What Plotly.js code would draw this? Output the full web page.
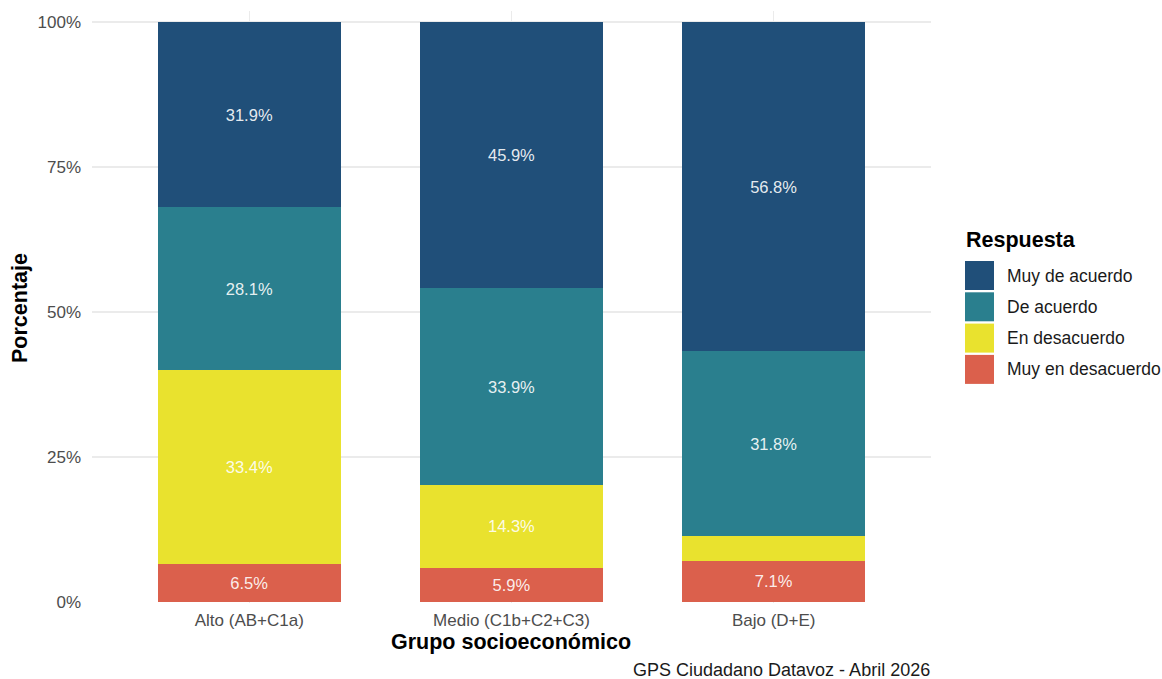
<!DOCTYPE html>
<html>
<head>
<meta charset="utf-8">
<script src="https://cdn.plot.ly/plotly-3.0.1.min.js"></script>
<style>html,body{margin:0;padding:0;background:#fff;}#chart{width:1162px;height:679px;}</style>
</head>
<body>
<div id="chart"></div>
<script>
// ---- Data ----
const categories = ["Alto (AB+C1a)", "Medio (C1b+C2+C3)", "Bajo (D+E)"];
const responses = ["Muy en desacuerdo", "En desacuerdo", "De acuerdo", "Muy de acuerdo"];
const muyEnDesacuerdo = [6.5, 5.9, 7.1];
const enDesacuerdo = [33.4, 14.3, 4.3];
const deAcuerdo = [28.1, 33.9, 31.8];
const muyDeAcuerdo = [31.9, 45.9, 56.8];
const yTickVals = [0, 25, 50, 75, 100];
const yTickText = ["0%", "25%", "50%", "75%", "100%"];

// ---- Styles ----
const colors = {
  "Muy en desacuerdo": "#db604c",
  "En desacuerdo": "#e9e22e",
  "De acuerdo": "#2a7f8e",
  "Muy de acuerdo": "#204f79"
};
const series = {
  "Muy en desacuerdo": muyEnDesacuerdo,
  "En desacuerdo": enDesacuerdo,
  "De acuerdo": deAcuerdo,
  "Muy de acuerdo": muyDeAcuerdo
};
const FONT = "Liberation Sans, Arial, sans-serif";

const traces = responses.map(r => ({
  type: "bar",
  name: r,
  x: categories,
  y: series[r],
  width: 0.7,
  marker: {color: colors[r], line: {width: 0}},
  text: series[r].map(v => v >= 5 ? v.toFixed(1) + "%" : ""),
  textposition: "inside",
  insidetextanchor: "middle",
  textangle: 0,
  constraintext: "none",
  textfont: {family: FONT, size: 16.5, color: "rgba(255,255,255,0.9)"},
  hoverinfo: "skip",
  showlegend: false
}));

// Plot area geometry in px
const L = 92, R = 931, T = 11, B = 603, W = 1162, H = 679;
const pw = R - L, ph = B - T;
const px = x => (x - L) / pw;
const py = y => (B - y) / ph;

// Custom legend (large keys as in reference)
const legendOrder = ["Muy de acuerdo", "De acuerdo", "En desacuerdo", "Muy en desacuerdo"];
const shapes = [];
const annotations = [];
annotations.push({xref: "paper", yref: "paper", x: px(964), y: py(240), xanchor: "left", yanchor: "middle",
  text: "<b>Respuesta</b>", showarrow: false, font: {family: FONT, size: 21.5, color: "#000"}});
legendOrder.forEach((r, i) => {
  const top = 261 + i * 31.3;
  shapes.push({type: "rect", xref: "paper", yref: "paper", x0: px(965), x1: px(994), y0: py(top), y1: py(top + 29),
    fillcolor: colors[r], line: {width: 0}});
  annotations.push({xref: "paper", yref: "paper", x: px(1005), y: py(top + 14.5), xanchor: "left", yanchor: "middle",
    text: r, showarrow: false, font: {family: FONT, size: 17.5, color: "#1a1a1a"}});
});
annotations.push({xref: "paper", yref: "paper", x: px(932), y: py(670), xanchor: "right", yanchor: "middle",
  text: "GPS Ciudadano Datavoz - Abril 2026", showarrow: false, font: {family: FONT, size: 18, color: "#1a1a1a"}});
annotations.push({xref: "paper", yref: "paper", x: px(511), y: py(642), xanchor: "center", yanchor: "middle",
  text: "<b>Grupo socioeconómico</b>", showarrow: false, font: {family: FONT, size: 21.5, color: "#000"}});
annotations.push({xref: "paper", yref: "paper", x: px(20), y: py(308), xanchor: "center", yanchor: "middle",
  text: "<b>Porcentaje</b>", textangle: -90, showarrow: false, font: {family: FONT, size: 21.5, color: "#000"}});

const layout = {
  width: W, height: H,
  margin: {l: L, r: W - R, t: T, b: H - B, pad: 0},
  paper_bgcolor: "#fff", plot_bgcolor: "#fff",
  barmode: "stack",
  barnorm: "percent",
  font: {family: FONT},
  showlegend: false,
  xaxis: {
    type: "category", range: [-0.6, 2.6],
    showgrid: true, gridcolor: "#ebebeb", gridwidth: 1.1,
    zeroline: false, showline: false, ticks: "",
    tickfont: {family: FONT, size: 17, color: "#4d4d4d"},
    ticklabelstandoff: 5
  },
  yaxis: {
    range: [-0.17, 101.9],
    tickvals: yTickVals, ticktext: yTickText,
    showgrid: true, gridcolor: "#ebebeb", gridwidth: 1.1,
    zeroline: false, showline: false, ticks: "",
    tickfont: {family: FONT, size: 17, color: "#4d4d4d"},
    ticklabelstandoff: 10
  },
  shapes: shapes,
  annotations: annotations
};

Plotly.newPlot("chart", traces, layout, {displayModeBar: false, staticPlot: true});
</script>
</body>
</html>
